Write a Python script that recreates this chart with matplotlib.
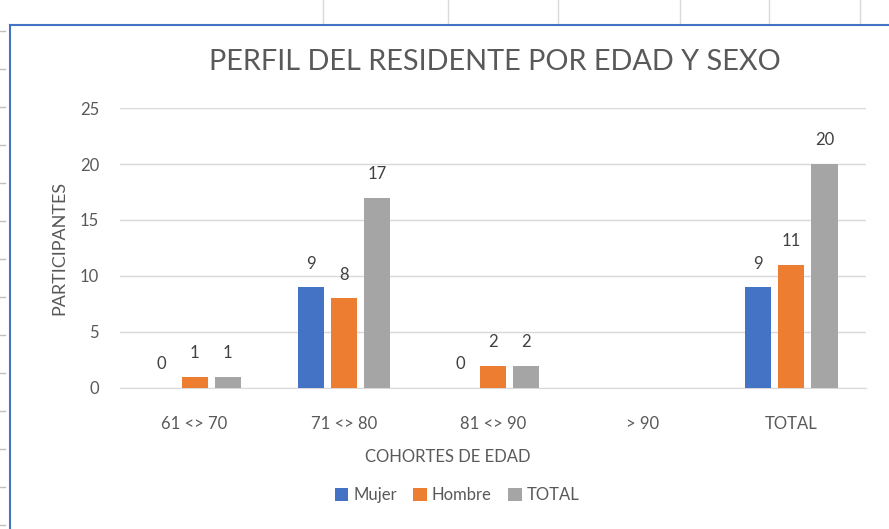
import numpy as np
import matplotlib.pyplot as plt
from matplotlib.lines import Line2D

plt.rcParams['font.family'] = ['Lato', 'DejaVu Sans']

cohortes = ['61 <> 70', '71 <> 80', '81 <> 90', '> 90', 'TOTAL']
mujer = [0, 9, 0, None, 9]
hombre = [1, 8, 2, None, 11]
total = [1, 17, 2, None, 20]

series = [('Mujer', mujer, '#4472C4'),
          ('Hombre', hombre, '#ED7D31'),
          ('TOTAL', total, '#A5A5A5')]

W, H = 889, 529
fig = plt.figure(figsize=(W / 100, H / 100), dpi=100)
fig.patch.set_facecolor('white')

# sheet decorations around the chart frame
for x in [323, 448, 558, 680, 769, 860]:
    fig.add_artist(Line2D([x / W, x / W], [1, 1 - 25 / H], color='#D9D9D9', lw=1))
for y in [31, 69, 107, 145, 183, 221, 259, 297, 335, 373, 411, 449, 487, 525]:
    fig.add_artist(Line2D([0, 5 / W], [1 - y / H, 1 - y / H], color='#BFBFBF', lw=1))
fig.add_artist(Line2D([10 / W, 10 / W], [0, 1 - 25 / H], color='#4472C4', lw=1.5))
fig.add_artist(Line2D([10 / W, 1], [1 - 25 / H, 1 - 25 / H], color='#4472C4', lw=1.5))

ax = fig.add_axes([120 / W, 1 - 388 / H, 746 / W, 280 / H])
x = np.arange(len(cohortes))
width = 0.175
step = 0.222
txt = '#595959'

for i, (name, vals, color) in enumerate(series):
    off = (i - 1) * step
    xs = [xi + off for xi, v in zip(x, vals) if v is not None]
    vs = [v for v in vals if v is not None]
    ax.bar(xs, vs, width, color=color, label=name, zorder=3)
    for xi, v in zip(xs, vs):
        ax.text(xi, v + 1.4, str(v), ha='center', va='bottom', fontsize=12, color='#404040')

ax.set_xlim(-0.5, len(cohortes) - 0.5)
ax.set_ylim(0, 25)
ax.set_yticks(range(0, 26, 5))
ax.set_xticks(x)
ax.set_xticklabels(cohortes)
ax.grid(axis='y', color='#D9D9D9', lw=1, zorder=0)
for s in ['top', 'right', 'left']:
    ax.spines[s].set_visible(False)
ax.spines['bottom'].set_color('#D9D9D9')
ax.tick_params(axis='both', length=0, labelsize=12, colors=txt)
ax.tick_params(axis='x', pad=20)
ax.tick_params(axis='y', pad=15)

ax.set_ylabel('PARTICIPANTES', fontsize=13, color=txt)
ax.yaxis.set_label_coords(-0.07, 0.5)
ax.set_xlabel('COHORTES DE EDAD', fontsize=12, color=txt)
ax.xaxis.set_label_coords(0.44, -0.247)
ax.xaxis.label.set_va('center')
fig.text(495 / W, 1 - 62 / H, 'PERFIL DEL RESIDENTE POR EDAD Y SEXO', ha='center',
         va='center', fontsize=20.8, color=txt)

fig.legend(loc='center', bbox_to_anchor=(457 / W, 1 - 495 / H), ncol=3, frameon=False,
           fontsize=12, handlelength=0.8, handleheight=0.8, handletextpad=0.3,
           columnspacing=1.0, labelcolor=txt)

fig.savefig('out.png', dpi=100, facecolor='white')
